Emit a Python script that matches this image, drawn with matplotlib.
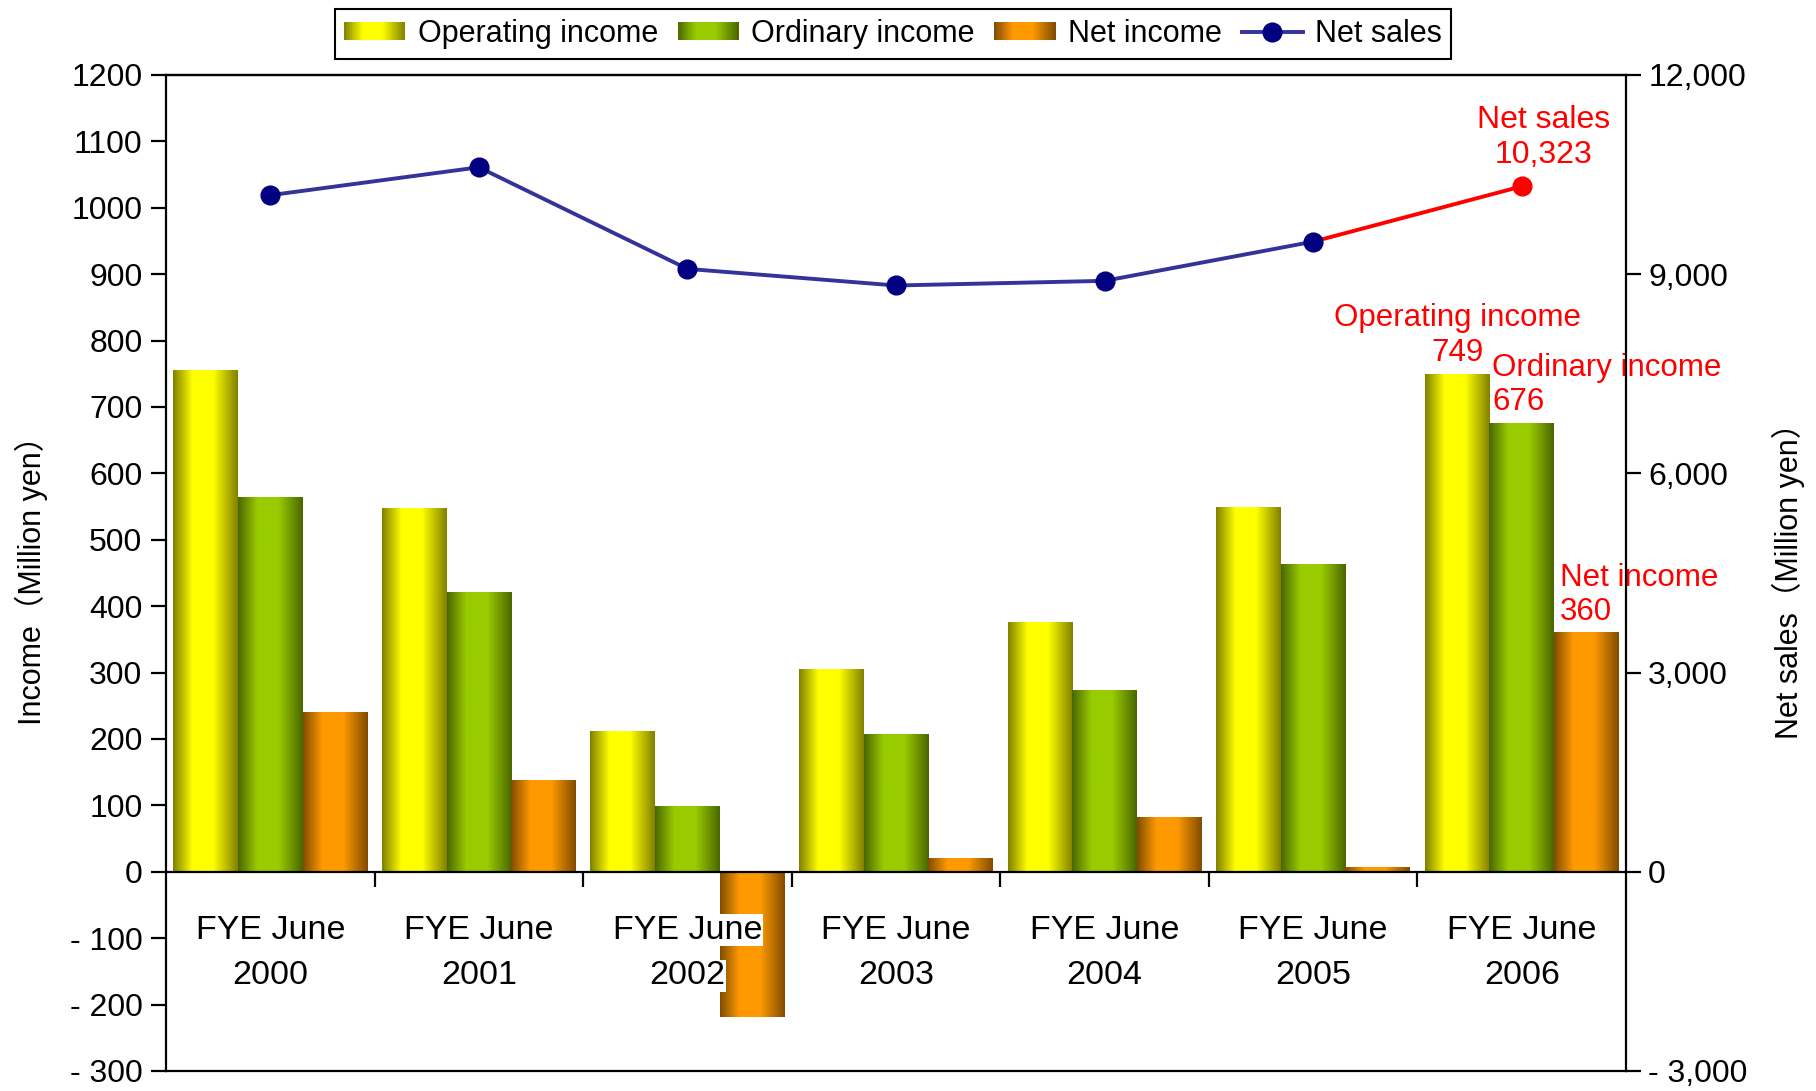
import numpy as np
import matplotlib.pyplot as plt
from matplotlib.colors import LinearSegmentedColormap
from matplotlib.patches import Rectangle
from matplotlib.legend_handler import HandlerBase
import matplotlib.ticker as mticker

plt.rcParams['font.family'] = ['Liberation Sans', 'Noto Sans CJK JP', 'DejaVu Sans']

years = ['2000', '2001', '2002', '2003', '2004', '2005', '2006']
operating_income = [756, 547, 211, 305, 376, 549, 749]
ordinary_income = [564, 421, 99, 207, 273, 463, 676]
net_income = [240, 138, -218, 21, 82, 7, 360]
net_sales = [10190, 10610, 9080, 8830, 8900, 9490, 10323]

series_names = ['Operating income', 'Ordinary income', 'Net income']
bright = ['#ffff00', '#99cc00', '#ff9900']
dark = ['#808000', '#4a6600', '#804c00']


def grad_cmap(c_dark, c_bright):
    return LinearSegmentedColormap.from_list(
        'g', [(0, c_dark), (0.3, c_bright), (0.62, c_bright), (1, c_dark)])


class GradientHandler(HandlerBase):
    def __init__(self, cmap):
        super().__init__()
        self.cmap = cmap

    def create_artists(self, legend, orig_handle, xdescent, ydescent,
                       width, height, fontsize, trans):
        n = 40
        arts = []
        for j in range(n):
            arts.append(Rectangle((-xdescent + width * j / n, -ydescent),
                                  width / n * 1.05, height,
                                  facecolor=self.cmap((j + 0.5) / n),
                                  edgecolor='none', transform=trans))
        return arts


fig = plt.figure(figsize=(18.16, 10.91), dpi=100)
ax = fig.add_axes([166 / 1816, 20 / 1091, 1460 / 1816, 996 / 1091])
ax2 = ax.twinx()

x = np.arange(len(years))
w = 0.31
grad = np.linspace(0, 1, 256).reshape(1, -1)
cmaps = [grad_cmap(d, b) for d, b in zip(dark, bright)]
containers = []
for k, vals in enumerate([operating_income, ordinary_income, net_income]):
    bc = ax.bar(x + (k - 1) * w, vals, w, color='none', edgecolor='none',
                label=series_names[k])
    containers.append(bc)
    for p in bc:
        x0, y0 = p.get_x(), p.get_y()
        y1 = y0 + p.get_height()
        ax.imshow(grad, cmap=cmaps[k], aspect='auto', interpolation='bilinear',
                  extent=(x0, x0 + p.get_width(), min(y0, y1), max(y0, y1)),
                  zorder=2)

ax.set_xlim(-0.5, len(years) - 0.5)
ax.set_ylim(-300, 1200)
ax2.set_ylim(-3000, 12000)

# net sales line, last segment in red
ax2.plot(x[-2:], net_sales[-2:], color='red', lw=2.8, zorder=2)
line, = ax2.plot(x[:-1], net_sales[:-1], color='#333399', lw=2.8, marker='o',
                 ms=13.5, mfc='#000080', mec='#000080', label='Net sales', zorder=3)
ax2.plot(x[-1], net_sales[-1], 'o', ms=13.5, color='red', zorder=3)

# axes styling
lw = 1.6
for s in ax.spines.values():
    s.set_linewidth(lw)
for s in ax2.spines.values():
    s.set_linewidth(lw)
ax.spines['bottom'].set_position(('data', 0))
ax.spines['right'].set_visible(False)
ax2.spines['left'].set_visible(False)

ax.set_xticks(np.arange(0.5, len(years) - 1, 1))
ax.set_xticklabels([])
ax.tick_params(axis='x', direction='out', length=11, width=lw)
ax.set_yticks(np.arange(-300, 1201, 100))
ax.yaxis.set_major_formatter(mticker.FuncFormatter(
    lambda v, _: f'- {abs(int(v))}' if v < 0 else f'{int(v)}'))
ax.tick_params(axis='y', direction='out', length=11, width=lw, labelsize=23, pad=6)

ax2.set_yticks(np.arange(-3000, 12001, 3000))
ax2.yaxis.set_major_formatter(mticker.FuncFormatter(
    lambda v, _: f'- {abs(v):,.0f}' if v < 0 else f'{v:,.0f}'))
ax2.tick_params(axis='y', direction='out', length=11, width=lw, labelsize=23, pad=5)

ax.set_ylabel('Income（Million yen）', fontsize=22)
ax.yaxis.set_label_coords(-0.081, 0.5)
ax2.set_ylabel('Net sales（Million yen）', fontsize=22)
ax2.yaxis.set_label_coords(1.1, 0.5)

# category labels with white background
for i, yr in enumerate(years):
    for txt, dy in [('FYE June', -42), (yr, -75)]:
        ax.annotate(txt, xy=(i, 0), xytext=(0, dy), textcoords='offset points',
                    ha='center', va='center', fontsize=24.5, zorder=6,
                    bbox=dict(facecolor='white', edgecolor='none', pad=0.5))

# red value labels for the last year
last = len(years) - 1
ax.annotate(f'{series_names[0]}\n{operating_income[last]}', xy=(x[last] - w, operating_income[last]),
            xytext=(0, 5), textcoords='offset points', ha='center', va='bottom',
            multialignment='center', color='red', fontsize=22.5, zorder=6)
ax.annotate(f'{series_names[1]}\n{ordinary_income[last]}', xy=(x[last] - w / 2, ordinary_income[last]),
            xytext=(2, 4), textcoords='offset points', ha='left', va='bottom',
            multialignment='left', color='red', fontsize=22.5, zorder=6)
ax.annotate(f'{series_names[2]}\n{net_income[last]}', xy=(x[last] + w / 2, net_income[last]),
            xytext=(4, 4), textcoords='offset points', ha='left', va='bottom',
            multialignment='left', color='red', fontsize=22.5, zorder=6)
ax2.annotate(f'Net sales\n{net_sales[last]:,}', xy=(x[last], net_sales[last]),
             xytext=(16, 12), textcoords='offset points', ha='center', va='bottom',
             multialignment='center', color='red', fontsize=23)

handler_map = {bc: GradientHandler(cm) for bc, cm in zip(containers, cmaps)}
leg = fig.legend(containers + [line], series_names + ['Net sales'],
                 handler_map=handler_map, loc='upper center',
                 bbox_to_anchor=(893 / 1816, 1 - 9 / 1091), borderaxespad=0,
                 ncol=4, fontsize=22, handlelength=2.0, handleheight=0.55,
                 handletextpad=0.4, columnspacing=0.65, borderpad=0.32,
                 fancybox=False, framealpha=1)
leg.get_frame().set_edgecolor('black')
leg.get_frame().set_linewidth(1.5)

fig.savefig('out.png', dpi=100)
